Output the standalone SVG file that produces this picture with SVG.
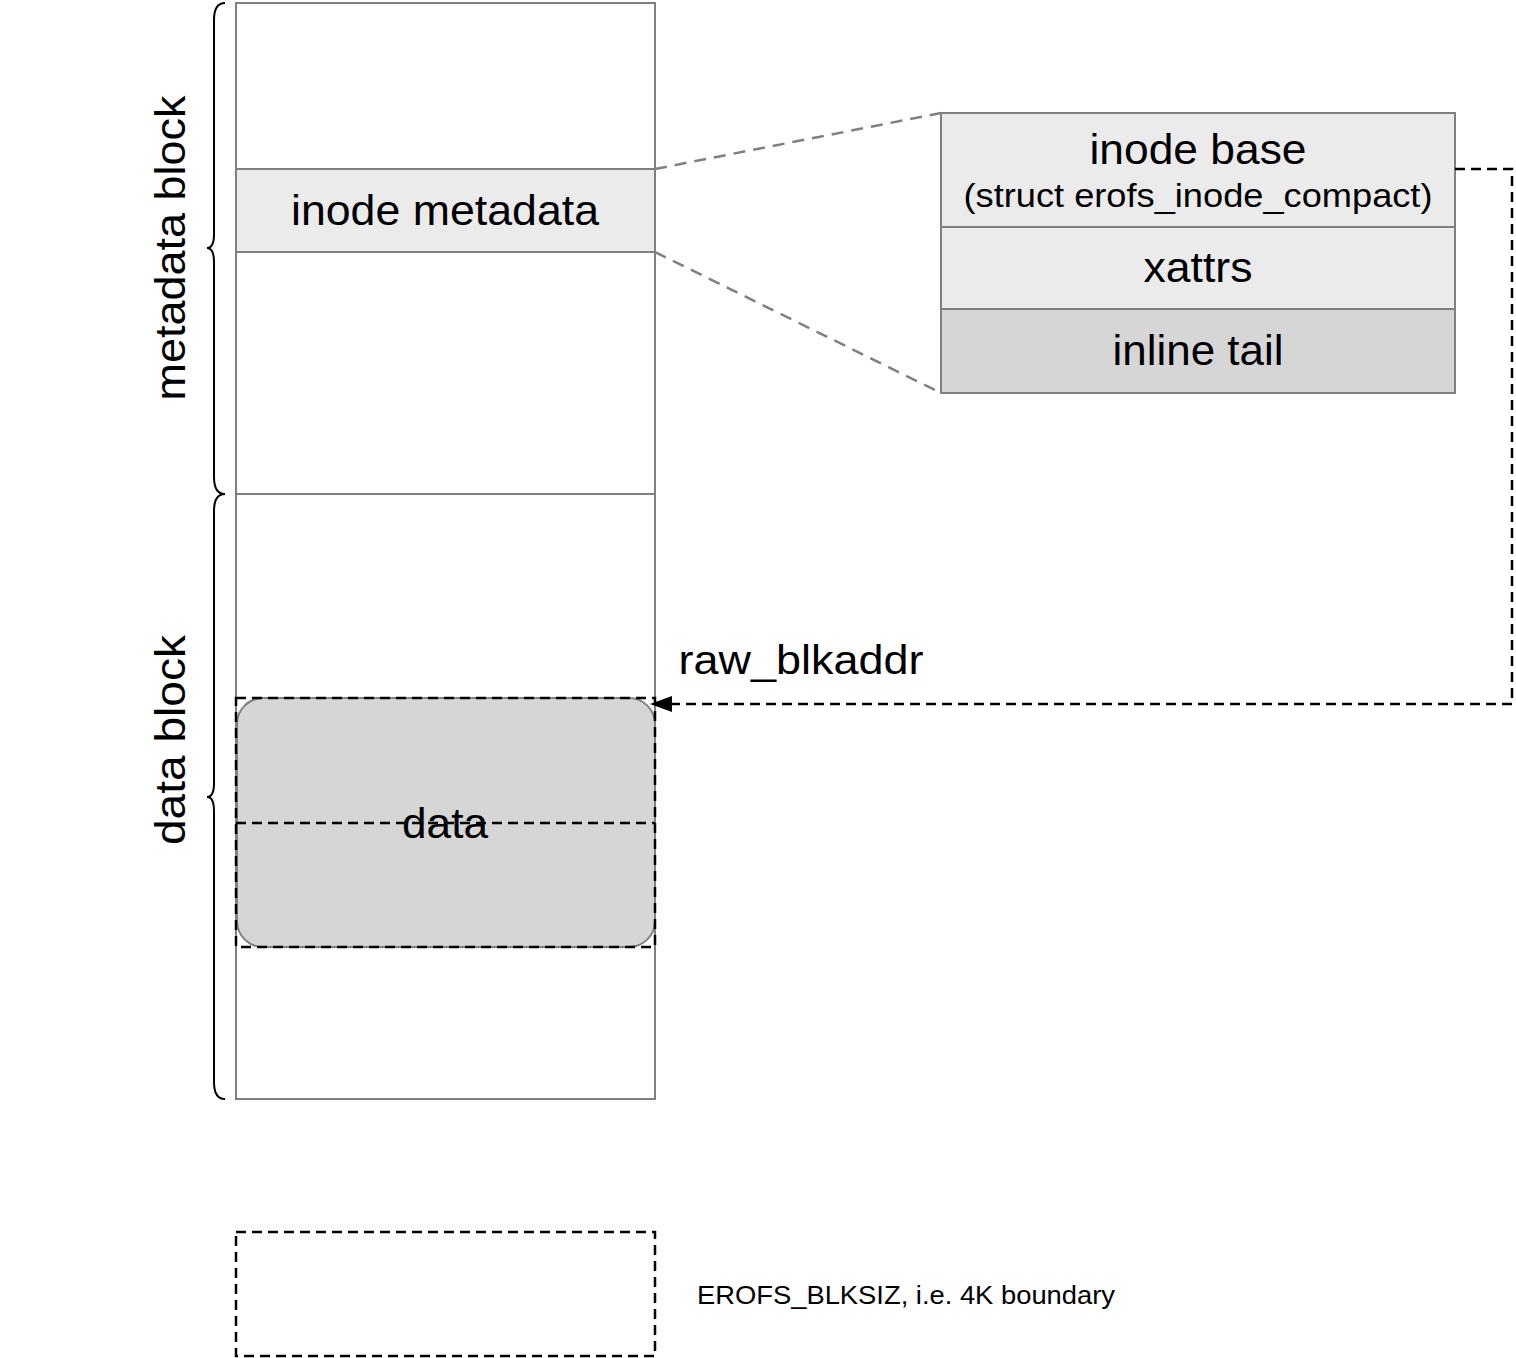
<svg xmlns="http://www.w3.org/2000/svg" width="1516" height="1358" viewBox="0 0 1516 1358">
<defs>
<style>
.box{stroke:#808080;stroke-width:2}
.t{font-family:"Liberation Sans",Arial,Helvetica,sans-serif;fill:#000;text-anchor:middle}
.dash{fill:none;stroke:#000;stroke-width:2.5;stroke-dasharray:10 6}
.gdash{fill:none;stroke:#808080;stroke-width:2.5;stroke-dasharray:12 8}
.brace{fill:none;stroke:#000;stroke-width:2}
</style>
<marker id="arr" markerWidth="22" markerHeight="16" refX="21" refY="8" orient="auto" markerUnits="userSpaceOnUse" viewBox="0 0 22 16">
<path d="M0,0 L22,8 L0,16 Z" fill="#000"/>
</marker>
</defs>
<rect width="1516" height="1358" fill="#fff"/>

<g id="column">
<rect class="box" x="236" y="3" width="419" height="1096" fill="#fff"/>
<line class="box" x1="236" y1="494" x2="655" y2="494"/>
</g>
<g id="inode-metadata">
<rect class="box" x="236" y="169" width="419" height="83" fill="#ebebeb"/>
<text class="t" x="445" y="225" font-size="42" textLength="308" lengthAdjust="spacingAndGlyphs">inode metadata</text>
</g>

<g id="inode-detail">
<rect class="box" x="941" y="113" width="514" height="114" fill="#ebebeb"/>
<text class="t" x="1198" y="164" font-size="42" textLength="217" lengthAdjust="spacingAndGlyphs">inode base</text>
<text class="t" x="1198" y="207" font-size="33" textLength="469" lengthAdjust="spacingAndGlyphs">(struct erofs_inode_compact)</text>
<rect class="box" x="941" y="227" width="514" height="82" fill="#ebebeb"/>
<text class="t" x="1198" y="282" font-size="42" textLength="109" lengthAdjust="spacingAndGlyphs">xattrs</text>
<rect class="box" x="941" y="309" width="514" height="84" fill="#d6d6d6"/>
<text class="t" x="1198" y="365" font-size="42" textLength="171" lengthAdjust="spacingAndGlyphs">inline tail</text>
</g>

<g id="data">
<rect x="237" y="698" width="418" height="249" rx="26" ry="26" fill="#d6d6d6" stroke="#808080" stroke-width="2"/>
<rect class="dash" x="236" y="698" width="419" height="249"/>
<line class="dash" x1="236" y1="823" x2="655" y2="823"/>
<text class="t" x="445" y="838" font-size="42" textLength="86" lengthAdjust="spacingAndGlyphs">data</text>
</g>

<g id="braces">
<path class="brace" d="M225 3 Q214 3 214 20 L214 234 Q214 248 207 248 Q214 248 214 262 L214 477 Q214 494 225 494"/>
<path class="brace" d="M225 494 Q214 494 214 511 L214 783 Q214 797 207 797 Q214 797 214 811 L214 1082 Q214 1099 225 1099"/>
<text class="t" x="0" y="0" font-size="42" textLength="305" lengthAdjust="spacingAndGlyphs" transform="translate(185 248) rotate(-90)">metadata block</text>
<text class="t" x="0" y="0" font-size="42" textLength="210" lengthAdjust="spacingAndGlyphs" transform="translate(185 740) rotate(-90)">data block</text>
</g>

<g id="connectors">
<line class="gdash" x1="655" y1="169" x2="941" y2="113"/>
<line class="gdash" x1="655" y1="252" x2="941" y2="393"/>
<polyline class="dash" points="1455,169 1512,169 1512,704 651,704" marker-end="url(#arr)"/>
<text class="t" x="801" y="674" font-size="40" textLength="245" lengthAdjust="spacingAndGlyphs">raw_blkaddr</text>
</g>

<g id="legend">
<rect class="dash" x="236" y="1232" width="419" height="124"/>
<text x="697" y="1304" font-size="26" textLength="418" lengthAdjust="spacingAndGlyphs" font-family="Liberation Sans,Arial,sans-serif">EROFS_BLKSIZ, i.e. 4K boundary</text>
</g>
</svg>
